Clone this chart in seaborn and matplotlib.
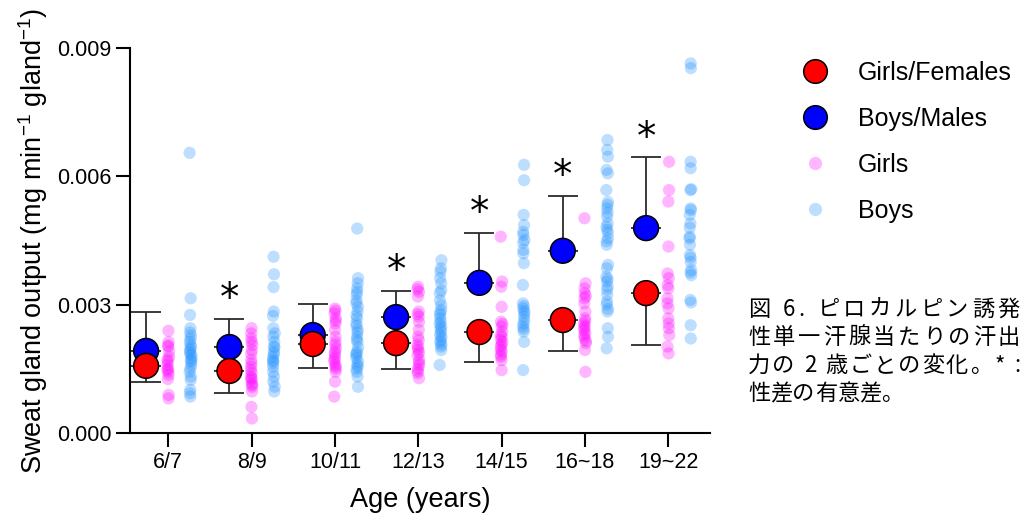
import numpy as np
import pandas as pd
import matplotlib
matplotlib.use("Agg")
import matplotlib.pyplot as plt
import seaborn as sns
from matplotlib.lines import Line2D

ages = ["6/7", "8/9", "10/11", "12/13", "14/15", "16~18", "19~22"]

# group means and SD (girls: lower bar, boys: upper bar)
girls_mean = [0.00157, 0.00145, 0.00208, 0.00210, 0.00236, 0.00264, 0.00327]
girls_sd = [0.00038, 0.00051, 0.00056, 0.00060, 0.00070, 0.00072, 0.00121]
boys_mean = [0.00192, 0.00201, 0.00229, 0.00271, 0.00351, 0.00426, 0.00479]
boys_sd = [0.00091, 0.00066, 0.00073, 0.00061, 0.00117, 0.00128, 0.00166]
signif = [False, True, False, True, True, True, True]

# individual values, one list per age group
girls_points = [
    [0.00239, 0.00213, 0.00205, 0.00202, 0.00190, 0.00178, 0.00172, 0.00167, 0.00159,
     0.00151, 0.00148, 0.00143, 0.00136, 0.00126, 0.00089, 0.00081],
    [0.00245, 0.00233, 0.00221, 0.00213, 0.00206, 0.00194, 0.00185, 0.00171, 0.00163,
     0.00155, 0.00147, 0.00140, 0.00132, 0.00128, 0.00124, 0.00116, 0.00112, 0.00108,
     0.00097, 0.00061, 0.00034],
    [0.00291, 0.00286, 0.00280, 0.00268, 0.00262, 0.00256, 0.00241, 0.00225, 0.00213,
     0.00206, 0.00198, 0.00190, 0.00185, 0.00178, 0.00172, 0.00167, 0.00160, 0.00155,
     0.00150, 0.00143, 0.00120, 0.00085],
    [0.00342, 0.00336, 0.00330, 0.00319, 0.00284, 0.00278, 0.00272, 0.00260, 0.00241,
     0.00225, 0.00217, 0.00206, 0.00200, 0.00194, 0.00188, 0.00182, 0.00171, 0.00165,
     0.00159, 0.00151, 0.00145, 0.00140, 0.00128],
    [0.00459, 0.00354, 0.00342, 0.00295, 0.00260, 0.00255, 0.00249, 0.00237, 0.00230,
     0.00225, 0.00218, 0.00213, 0.00207, 0.00202, 0.00195, 0.00190, 0.00183, 0.00178,
     0.00170, 0.00147],
    [0.00502, 0.00350, 0.00338, 0.00327, 0.00320, 0.00315, 0.00303, 0.00284, 0.00268,
     0.00262, 0.00256, 0.00250, 0.00245, 0.00240, 0.00233, 0.00228, 0.00221, 0.00215,
     0.00210, 0.00194, 0.00143],
    [0.00634, 0.00568, 0.00541, 0.00436, 0.00373, 0.00362, 0.00346, 0.00338, 0.00315,
     0.00303, 0.00291, 0.00268, 0.00256, 0.00245, 0.00229, 0.00202, 0.00186],
]
boys_points = [
    [0.00655, 0.00315, 0.00276, 0.00245, 0.00235, 0.00228, 0.00220, 0.00213, 0.00206,
     0.00200, 0.00195, 0.00190, 0.00185, 0.00182, 0.00175, 0.00170, 0.00167, 0.00159,
     0.00151, 0.00143, 0.00132, 0.00124, 0.00101, 0.00093, 0.00085],
    [0.00412, 0.00371, 0.00341, 0.00284, 0.00274, 0.00245, 0.00233, 0.00225, 0.00213,
     0.00202, 0.00200, 0.00190, 0.00185, 0.00178, 0.00171, 0.00168, 0.00163, 0.00155,
     0.00143, 0.00132, 0.00120, 0.00108, 0.00097],
    [0.00478, 0.00362, 0.00350, 0.00338, 0.00330, 0.00323, 0.00310, 0.00303, 0.00295,
     0.00284, 0.00275, 0.00268, 0.00256, 0.00250, 0.00241, 0.00235, 0.00225, 0.00218,
     0.00213, 0.00200, 0.00190, 0.00186, 0.00182, 0.00175, 0.00167, 0.00160, 0.00155,
     0.00150, 0.00143, 0.00132, 0.00108],
    [0.00404, 0.00385, 0.00377, 0.00362, 0.00350, 0.00334, 0.00327, 0.00310, 0.00299,
     0.00288, 0.00282, 0.00276, 0.00268, 0.00260, 0.00255, 0.00249, 0.00243, 0.00237,
     0.00230, 0.00225, 0.00218, 0.00213, 0.00207, 0.00202, 0.00194, 0.00159],
    [0.00627, 0.00591, 0.00510, 0.00486, 0.00470, 0.00463, 0.00451, 0.00445, 0.00428,
     0.00420, 0.00397, 0.00346, 0.00303, 0.00297, 0.00291, 0.00285, 0.00280, 0.00272,
     0.00264, 0.00256, 0.00249, 0.00243, 0.00237, 0.00213, 0.00147],
    [0.00685, 0.00662, 0.00646, 0.00615, 0.00607, 0.00568, 0.00540, 0.00533, 0.00525,
     0.00515, 0.00506, 0.00490, 0.00482, 0.00475, 0.00468, 0.00455, 0.00448, 0.00440,
     0.00393, 0.00385, 0.00365, 0.00360, 0.00354, 0.00342, 0.00335, 0.00323, 0.00307,
     0.00300, 0.00290, 0.00284, 0.00245, 0.00225, 0.00198],
    [0.00864, 0.00853, 0.00634, 0.00619, 0.00570, 0.00568, 0.00525, 0.00521, 0.00510,
     0.00490, 0.00480, 0.00459, 0.00455, 0.00440, 0.00416, 0.00410, 0.00400, 0.00381,
     0.00375, 0.00369, 0.00311, 0.00305, 0.00252, 0.00221],
]

caption_lines = ["図 6. ピロカルピン誘発", "性単一汗腺当たりの汗出",
                 "力の 2 歳ごとの変化。* :", "性差の有意差。"]

rows = []
for age, gv, bv in zip(ages, girls_points, boys_points):
    rows += [(age, "Girls", v) for v in gv]
    rows += [(age, "Boys", v) for v in bv]
dots = pd.DataFrame(rows, columns=["age", "sex", "output"])

sns.set_style("ticks")
plt.rcParams["font.family"] = ["Liberation Sans", "DejaVu Sans"]
plt.rcParams["mathtext.fontset"] = "custom"
plt.rcParams["mathtext.rm"] = "Liberation Sans"
plt.rcParams["mathtext.it"] = "Liberation Sans"
for k in ["text.color", "axes.labelcolor", "xtick.color", "ytick.color"]:
    plt.rcParams[k] = "black"

fig = plt.figure(figsize=(10.3, 5.22), dpi=100)
ax = fig.add_axes([0.1262, 0.1705, 0.5631, 0.7375])

np.random.seed(3)
pal = {"Mean": "white", "Girls": "#FF00FF", "Boys": "#1E90FF"}
sns.stripplot(data=dots, x="age", y="output", hue="sex", order=ages,
              hue_order=["Mean", "Girls", "Boys"], palette=pal, dodge=True,
              jitter=0.035, size=8.8, alpha=0.29, linewidth=0, legend=False, ax=ax)

pos = np.arange(len(ages)) - 0.8 / 3
zeros = np.zeros(len(ages))
ax.errorbar(pos, boys_mean, yerr=[zeros, boys_sd], fmt="none", ecolor="#2b2b2b",
            elinewidth=1.3, capsize=11, capthick=1.3, zorder=3)
ax.errorbar(pos, girls_mean, yerr=[girls_sd, zeros], fmt="none", ecolor="#2b2b2b",
            elinewidth=1.3, capsize=11, capthick=1.3, zorder=3)
means = pd.DataFrame({"pos": np.concatenate([pos, pos]),
                      "mean": boys_mean + girls_mean,
                      "grp": ["Boys/Males"] * 7 + ["Girls/Females"] * 7})
sns.scatterplot(data=means, x="pos", y="mean", hue="grp",
                palette={"Boys/Males": "#0000FF", "Girls/Females": "#FF0000"},
                s=320, edgecolor="black", linewidth=1.1, legend=False, zorder=4, ax=ax)

for p, m, sd, sig in zip(pos, boys_mean, boys_sd, signif):
    if sig:
        ax.text(p, m + sd + 0.00020, "*", ha="center", va="baseline", fontsize=28,
                family="DejaVu Sans")

ax.set_xlim(-0.46, 6.5)
ax.set_ylim(0, 0.009)
ax.set_yticks([0, 0.003, 0.006, 0.009])
ax.set_yticklabels(["0.000", "0.003", "0.006", "0.009"])
ax.set_xlabel("Age (years)", fontsize=19.5, labelpad=10)
ax.set_ylabel("Sweat gland output (mg min$^{-1}$ gland$^{-1}$)", fontsize=19.5, labelpad=5)
ax.tick_params(labelsize=15.5, width=1.5, length=10, color="black")
for s in ["left", "bottom"]:
    ax.spines[s].set_linewidth(1.5)
    ax.spines[s].set_color("black")
sns.despine(ax=ax)

handles = [
    Line2D([], [], ls="", marker="o", markersize=17, markerfacecolor="#FF0000",
           markeredgecolor="black", markeredgewidth=1.1, label="Girls/Females"),
    Line2D([], [], ls="", marker="o", markersize=17, markerfacecolor="#0000FF",
           markeredgecolor="black", markeredgewidth=1.1, label="Boys/Males"),
    Line2D([], [], ls="", marker="o", markersize=9.5, markerfacecolor="#FF00FF",
           markeredgewidth=0, alpha=0.29, label="Girls"),
    Line2D([], [], ls="", marker="o", markersize=9.5, markerfacecolor="#1E90FF",
           markeredgewidth=0, alpha=0.29, label="Boys"),
]
fig.legend(handles=handles, loc="upper left", bbox_to_anchor=(0.762, 0.902),
           frameon=False, fontsize=18, handlelength=1.6, handletextpad=0.92,
           labelspacing=0.88, borderaxespad=0)

# caption: justified lines like the source
cjk = ["Noto Sans CJK JP", "DejaVu Sans"]
renderer = fig.canvas.get_renderer()
x0, x1 = 748, 1020
for i, line in enumerate(caption_lines):
    ytop = 1 - (298 + i * 28) / 522
    widths = []
    for ch in line:
        t = fig.text(0, 0, ch if ch != " " else "a", fontsize=16, family=cjk)
        w = t.get_window_extent(renderer).width
        widths.append(w * (0.45 if ch == " " else 1))
        t.remove()
    extra = 0
    if i < len(caption_lines) - 1:
        extra = (x1 - x0 - sum(widths)) / (len(line) - 1)
    x = x0
    for ch, w in zip(line, widths):
        if ch != " ":
            fig.text(x / 1030, ytop, ch, fontsize=16, family=cjk, va="top", ha="left")
        x += w + extra

fig.savefig("out.png", dpi=100)
